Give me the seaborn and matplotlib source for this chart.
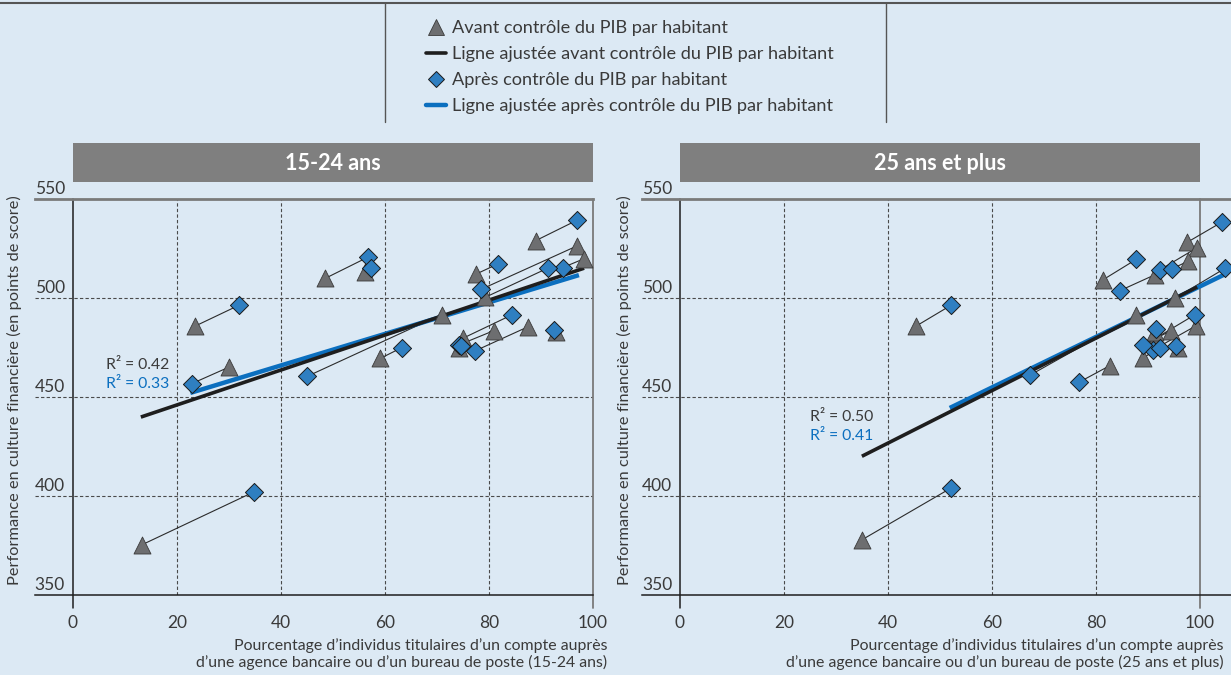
import matplotlib
matplotlib.use("Agg")
import matplotlib.pyplot as plt
from matplotlib.lines import Line2D
from matplotlib.patches import Rectangle
import pandas as pd
import seaborn as sns

# 15-24 ans : points avant / après contrôle du PIB par habitant (une paire par pays)
young_before_x = [13.3, 23.5, 30.1, 48.5, 56.1, 59.1, 70.9, 89.0, 77.6, 96.9, 98.3, 79.3, 75.0, 80.9, 87.6, 92.9, 74.2]
young_before_y = [375.5, 485.9, 465.3, 510.0, 513.2, 469.6, 491.8, 529.1, 512.3, 526.4, 520.0, 500.5, 479.8, 483.6, 485.7, 483.1, 474.7]
young_after_x = [34.9, 31.9, 22.9, 56.7, 57.3, 63.2, 45.1, 97.0, 81.7, 78.5, 94.2, 91.3, 84.4, 74.2, 77.4, 92.6, 74.6]
young_after_y = [402.3, 496.4, 456.9, 520.7, 515.4, 475.0, 460.6, 539.5, 517.3, 504.5, 515.5, 515.2, 491.6, 476.4, 473.5, 484.0, 475.8]

# 25 ans et plus
adult_before_x = [35.0, 45.4, 87.8, 82.7, 81.3, 97.6, 99.5, 97.8, 91.3, 95.2, 99.2, 94.4, 91.5, 89.0, 95.8, 91.3]
adult_before_y = [378.0, 485.9, 491.3, 466.0, 509.2, 528.3, 525.6, 518.8, 511.8, 500.0, 486.0, 483.6, 479.8, 469.7, 474.7, 483.2]
adult_after_x = [52.1, 52.1, 67.3, 76.7, 87.8, 104.2, 92.3, 94.6, 84.6, 104.9, 91.0, 89.1, 99.0, 92.3, 95.4, 91.5]
adult_after_y = [404.1, 496.4, 461.1, 457.5, 519.7, 538.4, 514.3, 514.8, 503.8, 515.2, 473.9, 476.4, 491.6, 475.1, 476.1, 484.3]

# Droites ajustées (extrémités)
young_fit_before_x = [13.1, 98.3]
young_fit_before_y = [440.0, 515.2]
young_fit_after_x = [22.6, 97.3]
young_fit_after_y = [452.2, 511.7]
adult_fit_before_x = [35.0, 99.5]
adult_fit_before_y = [420.2, 505.7]
adult_fit_after_x = [51.9, 104.9]
adult_fit_after_y = [444.6, 512.2]

young_r2 = [0.42, 0.33]
adult_r2 = [0.50, 0.41]

panel_titles = ["15-24 ans", "25 ans et plus"]
x_ticks = [0, 20, 40, 60, 80, 100]
y_ticks = [350, 400, 450, 500, 550]
y_label = "Performance en culture financière (en points de score)"
x_labels = [
    "Pourcentage d\u2019individus titulaires d\u2019un compte auprès\n"
    "d\u2019une agence bancaire ou d\u2019un bureau de poste (15-24 ans)",
    "Pourcentage d\u2019individus titulaires d\u2019un compte auprès\n"
    "d\u2019une agence bancaire ou d\u2019un bureau de poste (25 ans et plus)",
]
legend_labels = [
    "Avant contrôle du PIB par habitant",
    "Ligne ajustée avant contrôle du PIB par habitant",
    "Après contrôle du PIB par habitant",
    "Ligne ajustée après contrôle du PIB par habitant",
]

BG = "#dce9f4"
GREY_MARK = "#6d6e70"
BLUE_MARK = "#2f7fc1"
BLUE_LINE = "#0b6fbf"
DARK = "#1e1e1e"
FRAME = "#7a7a7a"
TEXT = "#3a3a3a"

sns.set_theme(style="white")
plt.rcParams["font.family"] = ["Lato", "DejaVu Sans"]

fig = plt.figure(figsize=(12.31, 6.75), dpi=100, facecolor=BG)

XMIN = -7.3
panels = [
    dict(rect=[0.0282, 0.1181, 0.4535, 0.5867], xmax=100.0,
         bx=young_before_x, by=young_before_y, ax_=young_after_x, ay=young_after_y,
         fbx=young_fit_before_x, fby=young_fit_before_y,
         fax=young_fit_after_x, fay=young_fit_after_y,
         r2=young_r2, r2x=18.6, r2ha="right", r2y=[466.5, 456.9],
         title=panel_titles[0], xlabel=x_labels[0], xlabel_px=607, ylabel_px=14),
    dict(rect=[0.5215, 0.1181, 0.4785, 0.5867], xmax=106.0,
         bx=adult_before_x, by=adult_before_y, ax_=adult_after_x, ay=adult_after_y,
         fbx=adult_fit_before_x, fby=adult_fit_before_y,
         fax=adult_fit_after_x, fay=adult_fit_after_y,
         r2=adult_r2, r2x=25.0, r2ha="left", r2y=[440.0, 430.3],
         title=panel_titles[1], xlabel=x_labels[1], xlabel_px=1224, ylabel_px=624),
]

W, H = 1231.0, 675.0
dash = (0, (3, 2))

for p in panels:
    ax = fig.add_axes(p["rect"])
    ax.set_facecolor("none")
    ax.set_xlim(XMIN, p["xmax"])
    ax.set_ylim(350, 550)

    # grille en pointillés
    ax.vlines([20, 40, 60, 80], 350, 550, colors="#4a4a4a", lw=0.8, linestyles=dash, zorder=1)
    ax.hlines([400, 450, 500], XMIN, 100, colors="#4a4a4a", lw=0.8, linestyles=dash, zorder=1)

    # axes verticaux à 0 et 100 (prolongés sous l'axe horizontal)
    ax.plot([0, 0], [343.4, 550], color=DARK, lw=1.1, clip_on=False, zorder=2)
    ax.plot([100, 100], [343.4, 550], color=FRAME, lw=1.3, clip_on=False, zorder=2)

    for side in ["left", "right"]:
        ax.spines[side].set_visible(False)
    ax.spines["top"].set_color(FRAME)
    ax.spines["top"].set_linewidth(2.0)
    ax.spines["bottom"].set_color(DARK)
    ax.spines["bottom"].set_linewidth(1.1)

    # segments reliant chaque pays avant / après
    for x0, y0, x1, y1 in zip(p["bx"], p["by"], p["ax_"], p["ay"]):
        ax.plot([x0, x1], [y0, y1], color="#2b2b2b", lw=0.8, zorder=3, clip_on=False)

    fit_after = pd.DataFrame({"x": p["fax"], "y": p["fay"]})
    fit_before = pd.DataFrame({"x": p["fbx"], "y": p["fby"]})
    sns.lineplot(data=fit_after, x="x", y="y", ax=ax, color=BLUE_LINE, lw=3.2,
                 zorder=4, solid_capstyle="butt")
    sns.lineplot(data=fit_before, x="x", y="y", ax=ax, color=DARK, lw=2.6,
                 zorder=5, solid_capstyle="butt")

    before = pd.DataFrame({"x": p["bx"], "y": p["by"]})
    after = pd.DataFrame({"x": p["ax_"], "y": p["ay"]})
    sns.scatterplot(data=before, x="x", y="y", ax=ax, marker="^", s=150,
                    color=GREY_MARK, edgecolor="#3a3a3a", linewidth=0.6,
                    zorder=6, clip_on=False)
    sns.scatterplot(data=after, x="x", y="y", ax=ax, marker="D", s=85,
                    color=BLUE_MARK, edgecolor="#1a1a1a", linewidth=0.7,
                    zorder=7, clip_on=False)

    ax.set_xlabel("")
    ax.set_ylabel("")
    ax.set_xticks(x_ticks)
    ax.set_xticklabels([str(t) for t in x_ticks])
    ax.tick_params(axis="x", length=0, pad=14, labelsize=12.5, labelcolor=TEXT)
    ax.set_yticks([])

    # libellés de l'axe vertical posés au-dessus des lignes
    for t in y_ticks:
        ax.text(XMIN, t + 1.2, str(t), ha="left", va="bottom", fontsize=12.5, color=TEXT)

    # R²
    ax.text(p["r2x"], p["r2y"][0], f"R\u00b2 = {p['r2'][0]:.2f}", ha=p["r2ha"], va="center",
            fontsize=11.3, color=TEXT, zorder=8)
    ax.text(p["r2x"], p["r2y"][1], f"R\u00b2 = {p['r2'][1]:.2f}", ha=p["r2ha"], va="center",
            fontsize=11.3, color=BLUE_LINE, zorder=8)

    # bandeau de titre
    x0_px = p["rect"][0] * W + (0 - XMIN) * 5.2
    x1_px = x0_px + 100 * 5.2
    fig.patches.append(Rectangle((x0_px / W, 1 - 182 / H), (x1_px - x0_px) / W, 39 / H,
                                 transform=fig.transFigure, facecolor="#7f7f7f",
                                 edgecolor="none", zorder=1))
    fig.text((x0_px + x1_px) / 2 / W, 1 - 163 / H, p["title"], ha="center", va="center",
             fontsize=15.5, fontweight="bold", color="white")

    # titres d'axes
    fig.text(p["xlabel_px"] / W, 1 - 654 / H, p["xlabel"], ha="right", va="center",
             fontsize=11.4, color=TEXT, linespacing=1.2)
    fig.text(p["ylabel_px"] / W, 1 - 390 / H, y_label, rotation=90, ha="center",
             va="center", fontsize=11.8, color=TEXT)

# cadre de la légende
fig.add_artist(Line2D([0, 1], [1 - 3 / H, 1 - 3 / H], transform=fig.transFigure,
                      color="#555555", lw=1.5))
for xp in [385, 886]:
    fig.add_artist(Line2D([xp / W, xp / W], [1 - 3 / H, 1 - 122 / H],
                          transform=fig.transFigure, color="#555555", lw=1.0))

handles = [
    Line2D([], [], marker="^", ls="none", markersize=11, markerfacecolor=GREY_MARK,
           markeredgecolor="#3a3a3a", markeredgewidth=0.6),
    Line2D([], [], color=DARK, lw=2.6),
    Line2D([], [], marker="D", ls="none", markersize=8.5, markerfacecolor=BLUE_MARK,
           markeredgecolor="#1a1a1a", markeredgewidth=0.7),
    Line2D([], [], color=BLUE_LINE, lw=3.2),
]
fig.legend(handles, legend_labels, loc="upper left", bbox_to_anchor=(426 / W, 1 - 20 / H),
           frameon=False, fontsize=13.1, handlelength=1.1, handletextpad=0.35,
           labelspacing=0.55, borderaxespad=0, borderpad=0, labelcolor=TEXT)

fig.savefig("out.png", dpi=100, facecolor=BG)
